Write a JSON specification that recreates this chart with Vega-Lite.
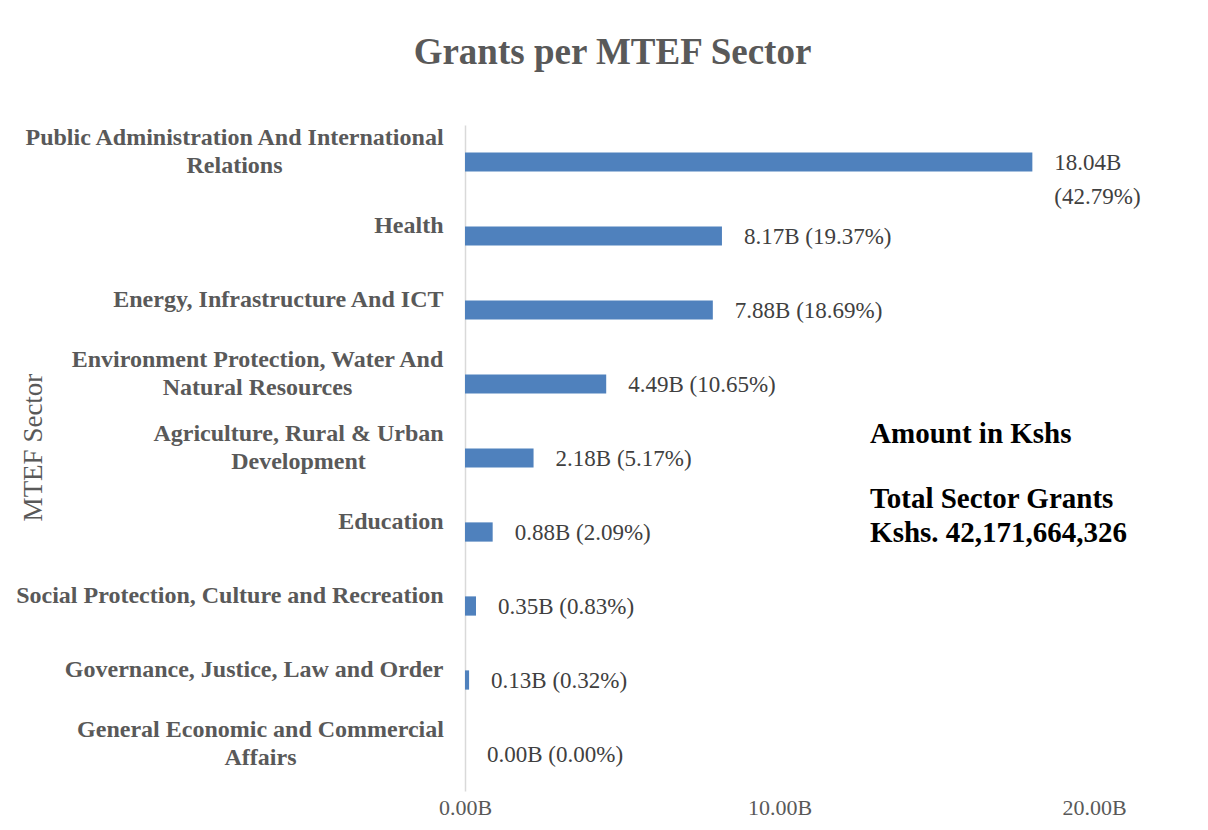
{
  "$schema": "https://vega.github.io/schema/vega-lite/v6.json",
  "autosize": {"type": "none"},
  "padding": {"left": 465, "top": 125, "right": 115, "bottom": 39},
  "width": 629,
  "height": 666,
  "background": "white",
  "config": {"view": {"stroke": null}, "font": "Liberation Serif"},
  "title": {
    "text": "Grants per MTEF Sector",
    "font": "Liberation Serif",
    "fontSize": 37,
    "fontWeight": "bold",
    "color": "#595959",
    "anchor": "middle",
    "frame": "group",
    "baseline": "alphabetic",
    "dx": -167,
    "offset": 24
  },
  "data": {
    "values": [
      {"sector": "Public Administration And International Relations", "amount": 18.04, "label": "18.04B\n(42.79%)"},
      {"sector": "Health", "amount": 8.17, "label": "8.17B (19.37%)"},
      {"sector": "Energy, Infrastructure And ICT", "amount": 7.88, "label": "7.88B (18.69%)"},
      {"sector": "Environment Protection, Water And Natural Resources", "amount": 4.49, "label": "4.49B (10.65%)"},
      {"sector": "Agriculture, Rural & Urban Development", "amount": 2.18, "label": "2.18B (5.17%)"},
      {"sector": "Education", "amount": 0.88, "label": "0.88B (2.09%)"},
      {"sector": "Social Protection, Culture and Recreation", "amount": 0.35, "label": "0.35B (0.83%)"},
      {"sector": "Governance, Justice, Law and Order", "amount": 0.13, "label": "0.13B (0.32%)"},
      {"sector": "General Economic and Commercial Affairs", "amount": 0.0, "label": "0.00B (0.00%)"}
    ]
  },
  "encoding": {
    "y": {
      "field": "sector",
      "type": "nominal",
      "sort": null,
      "scale": {"paddingInner": 0.74, "paddingOuter": 0.37},
      "axis": {
        "title": "MTEF Sector",
        "titleFont": "Liberation Serif",
        "titleFontSize": 27,
        "titleFontWeight": "normal",
        "titleColor": "#595959",
        "titleAngle": -90,
        "titleBaseline": "middle",
        "titleAlign": "center",
        "titleX": -432,
        "titleY": 322,
        "labelFont": "Liberation Serif",
        "labelFontSize": 24,
        "labelFontWeight": "bold",
        "labelColor": "#595959",
        "labelLimit": 600,
        "labelAlign": {
          "condition": {
            "test": "indexof(['Public Administration And International Relations', 'Environment Protection, Water And Natural Resources', 'Agriculture, Rural & Urban Development', 'General Economic and Commercial Affairs'], datum.value) >= 0",
            "value": "center"
          },
          "value": "right"
        },
        "labelPadding": {
          "condition": [
            {"test": "datum.value == 'Public Administration And International Relations'", "value": 231},
            {"test": "datum.value == 'Environment Protection, Water And Natural Resources'", "value": 208},
            {"test": "datum.value == 'Agriculture, Rural & Urban Development'", "value": 167},
            {"test": "datum.value == 'General Economic and Commercial Affairs'", "value": 205}
          ],
          "value": 22
        },
        "labelOffset": {
          "condition": {
            "test": "indexof(['Public Administration And International Relations', 'Environment Protection, Water And Natural Resources', 'Agriculture, Rural & Urban Development', 'General Economic and Commercial Affairs'], datum.value) >= 0",
            "value": -24
          },
          "value": -10
        },
        "labelLineHeight": 28,
        "labelExpr": "datum.value == 'Public Administration And International Relations' ? ['Public Administration And International', 'Relations'] : datum.value == 'Environment Protection, Water And Natural Resources' ? ['Environment Protection, Water And', 'Natural Resources'] : datum.value == 'Agriculture, Rural & Urban Development' ? ['Agriculture, Rural & Urban', 'Development'] : datum.value == 'General Economic and Commercial Affairs' ? ['General Economic and Commercial', 'Affairs'] : datum.value",
        "ticks": false,
        "domain": true,
        "domainColor": "#D9D9D9",
        "domainWidth": 1.5,
        "grid": false
      }
    },
    "x": {
      "field": "amount",
      "type": "quantitative",
      "scale": {"domain": [0, 20], "nice": false},
      "axis": {
        "title": null,
        "values": [0, 10, 20],
        "labelExpr": "format(datum.value, '.2f') + 'B'",
        "labelFont": "Liberation Serif",
        "labelFontSize": 22,
        "labelColor": "#595959",
        "labelPadding": 6,
        "labelFlush": false,
        "ticks": false,
        "domain": false,
        "grid": false
      }
    }
  },
  "layer": [
    {"mark": {"type": "bar", "color": "#4F81BD"}},
    {
      "mark": {
        "type": "text",
        "align": "left",
        "baseline": "alphabetic",
        "dx": 22,
        "dy": 8,
        "fontSize": 23,
        "font": "Liberation Serif",
        "color": "#404040",
        "lineBreak": "\n",
        "lineHeight": 34
      },
      "encoding": {"text": {"field": "label"}}
    },
    {
      "transform": [{"filter": "datum.sector == 'Agriculture, Rural & Urban Development'"}],
      "mark": {
        "type": "text",
        "align": "left",
        "baseline": "alphabetic",
        "dy": -15,
        "fontSize": 29,
        "fontWeight": "bold",
        "font": "Liberation Serif",
        "color": "#000000"
      },
      "encoding": {
        "x": {"datum": 12.88},
        "text": {"value": "Amount in Kshs"}
      }
    },
    {
      "transform": [{"filter": "datum.sector == 'Agriculture, Rural & Urban Development'"}],
      "mark": {
        "type": "text",
        "align": "left",
        "baseline": "alphabetic",
        "dy": 50,
        "fontSize": 29,
        "fontWeight": "bold",
        "font": "Liberation Serif",
        "color": "#000000",
        "lineHeight": 34
      },
      "encoding": {
        "x": {"datum": 12.88},
        "text": {"value": ["Total Sector Grants", "Kshs. 42,171,664,326"]}
      }
    }
  ]
}
